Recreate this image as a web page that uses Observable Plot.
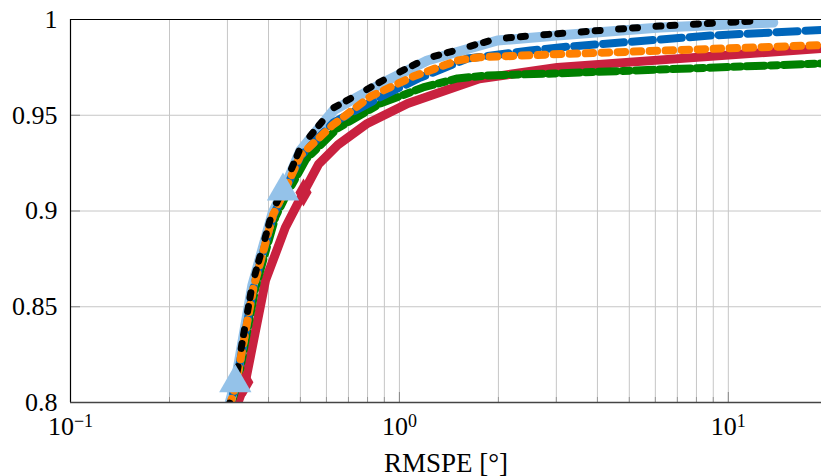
<!DOCTYPE html>
<html><head><meta charset="utf-8">
<script src="https://cdn.jsdelivr.net/npm/d3@7"></script>
<script src="https://cdn.jsdelivr.net/npm/@observablehq/plot@0.6"></script>
<style>html,body{margin:0;padding:0;background:#fff;overflow:hidden}</style>
</head><body><div id="chart"></div>
<script>
// ---- axes / ticks ----
const xDomain = [0.1, 19.2];
const yDomain = [0.8, 1];
const xTicks = [0.1, 1, 10];
const xTickExponents = ["−1", "0", "1"];
const xMinorTicks = [0.2, 0.3, 0.4, 0.5, 0.6, 0.7, 0.8, 0.9, 2, 3, 4, 5, 6, 7, 8, 9];
const yTicks = [0.8, 0.85, 0.9, 0.95, 1];
const yTickLabels = ["0.8", "0.85", "0.9", "0.95", "1"];
const xLabel = "RMSPE [°]";

// ---- series (x = RMSPE, y = value) ----
const redX = [0.315, 0.323, 0.340, 0.3915, 0.45, 0.511, 0.568, 0.65, 0.799, 1.06, 1.75, 3.02, 19.2];
const redY = [0.79, 0.80, 0.8106, 0.8637, 0.8914, 0.9097, 0.9245, 0.9345, 0.9457, 0.9561, 0.969, 0.975, 0.9849];

const greenX = [0.3, 0.31, 0.322, 0.365, 0.42, 0.455, 0.52, 0.648, 0.875, 1.18, 1.5, 1.85, 2.95, 19.2];
const greenY = [0.79, 0.801, 0.8102, 0.86, 0.897, 0.909, 0.927, 0.9431, 0.9561, 0.9645, 0.9692, 0.9708, 0.9718, 0.977];

const lightBlueX = [0.296, 0.306, 0.317, 0.357, 0.411, 0.4426, 0.5, 0.63, 0.894, 1.216, 1.986, 3.02, 6.21, 13.7];
const lightBlueY = [0.79, 0.801, 0.8102, 0.861, 0.8987, 0.9103, 0.9316, 0.9525, 0.9671, 0.9786, 0.989, 0.9916, 0.9958, 0.9984];

const blueX = [0.298, 0.308, 0.319, 0.36, 0.413, 0.445, 0.5, 0.63, 0.894, 1.16, 1.61, 2.5, 3.24, 8.8, 19.2];
const blueY = [0.79, 0.801, 0.8102, 0.86, 0.8975, 0.909, 0.9285, 0.9462, 0.9603, 0.9697, 0.9796, 0.9838, 0.9858, 0.9916, 0.9945];

const orangeX = [0.298, 0.308, 0.319, 0.36, 0.413, 0.445, 0.5, 0.625, 0.817, 1.10, 1.5, 1.75, 2.95, 19.2];
const orangeY = [0.79, 0.801, 0.8102, 0.86, 0.898, 0.9095, 0.929, 0.9447, 0.9598, 0.9702, 0.9786, 0.9803, 0.9818, 0.9866];

const blackX = [0.296, 0.306, 0.317, 0.357, 0.411, 0.4426, 0.5, 0.63, 0.894, 1.216, 1.986, 3.02, 6.21, 12.5];
const blackY = [0.79, 0.801, 0.8105, 0.8617, 0.8997, 0.9115, 0.933, 0.9538, 0.9683, 0.9798, 0.990, 0.9926, 0.9966, 0.9994];

// markers
const redMarkerX = [0.340, 0.511];
const redMarkerY = [0.8106, 0.9097];
const lightBlueMarkerX = [0.317, 0.4426];
const lightBlueMarkerY = [0.8102, 0.9103];

const rows = (xs, ys) => xs.map((x, i) => ({x, y: ys[i]}));

const gridColor = "#c6c6c6";
const font = "Liberation Serif";

const plot = Plot.plot({
  width: 821,
  height: 476,
  marginLeft: 70,
  marginRight: 0,
  marginTop: 19,
  marginBottom: 74,
  x: {type: "log", domain: xDomain},
  y: {domain: yDomain},
  style: {fontFamily: font, fontSize: "26px", color: "#000", background: "#fff"},
  marks: [
    // grid
    Plot.ruleX(xMinorTicks.concat([1, 10]), {stroke: gridColor, strokeWidth: 1}),
    Plot.ruleY(yTicks.filter(d => d > 0.8 && d < 1), {stroke: gridColor, strokeWidth: 1}),
    // inward tick marks
    Plot.axisY({ticks: yTicks, tickSize: 10, dx: 10, tickFormat: () => "", stroke: "#888", label: null}),
    Plot.axisX({ticks: xTicks, tickSize: 10, dy: -10, tickFormat: () => "", stroke: "#888", label: null}),
    Plot.axisX({ticks: xMinorTicks, tickSize: 5, dy: -5, tickFormat: () => "", stroke: "#999", label: null}),
    // tick labels
    Plot.axisY({ticks: yTicks, tickSize: 0, tickPadding: 13, tickFormat: d => yTickLabels[yTicks.indexOf(d)], label: null, fontSize: 26, fontFamily: font, fontVariant: "normal"}),
    Plot.axisX({ticks: xTicks, tickSize: 0, tickPadding: 14, tickFormat: d => "10|" + xTickExponents[xTicks.indexOf(d)], label: null, fontSize: 26, fontFamily: font, fontVariant: "normal"}),
    // series
    Plot.line(rows(redX, redY), {x: "x", y: "y", stroke: "#c9213f", strokeWidth: 9, clip: true}),
    Plot.line(rows(greenX, greenY), {x: "x", y: "y", stroke: "#008000", strokeWidth: 8, strokeDasharray: "18,6,7,6", clip: true}),
    Plot.line(rows(lightBlueX, lightBlueY), {x: "x", y: "y", stroke: "#94c2e9", strokeWidth: 10, clip: true}),
    Plot.line(rows(blueX, blueY), {x: "x", y: "y", stroke: "#0066bb", strokeWidth: 8, strokeDasharray: "21,8", clip: true}),
    Plot.line(rows(orangeX, orangeY), {x: "x", y: "y", stroke: "#ff8000", strokeWidth: 8, strokeDasharray: "7.5,8.5", clip: true}),
    Plot.line(rows(blackX, blackY), {x: "x", y: "y", stroke: "#000", strokeWidth: 7, strokeDasharray: "5,9,5,18.5", clip: true}),
    // frame lines
    Plot.ruleX([xDomain[0]], {stroke: "#000", strokeWidth: 1.2}),
    Plot.ruleY([yDomain[1]], {stroke: "#000", strokeWidth: 1.2}),
    Plot.ruleY([yDomain[0]], {stroke: "#444", strokeWidth: 1.6}),
    // markers
    Plot.dot(rows(redMarkerX, redMarkerY), {x: "x", y: "y", symbol: "diamond", r: 8.5, fill: "#c9213f", stroke: "none"}),
    Plot.dot(rows(lightBlueMarkerX, lightBlueMarkerY), {x: "x", y: "y", symbol: "triangle", r: 12, fill: "#94c2e9", stroke: "none"}),
    // axis title
    Plot.text([xLabel], {frameAnchor: "bottom", lineAnchor: "bottom", dy: 69, fontSize: 27, fontFamily: font, fill: "#000"})
  ]
});

// superscript exponents for log tick labels
d3.select(plot).selectAll('g[aria-label="x-axis tick label"] text').each(function() {
  const t = d3.select(this);
  const parts = t.text().split("|");
  if (parts.length !== 2) return;
  t.text(parts[0]);
  t.append("tspan").attr("dy", "-0.42em").attr("font-size", "18px").text(parts[1]);
});
d3.select(plot).selectAll('g[aria-label$="tick label"]').attr("font-family", font).style("font-variant", "normal");

document.getElementById("chart").appendChild(plot);
</script>
</body></html>
